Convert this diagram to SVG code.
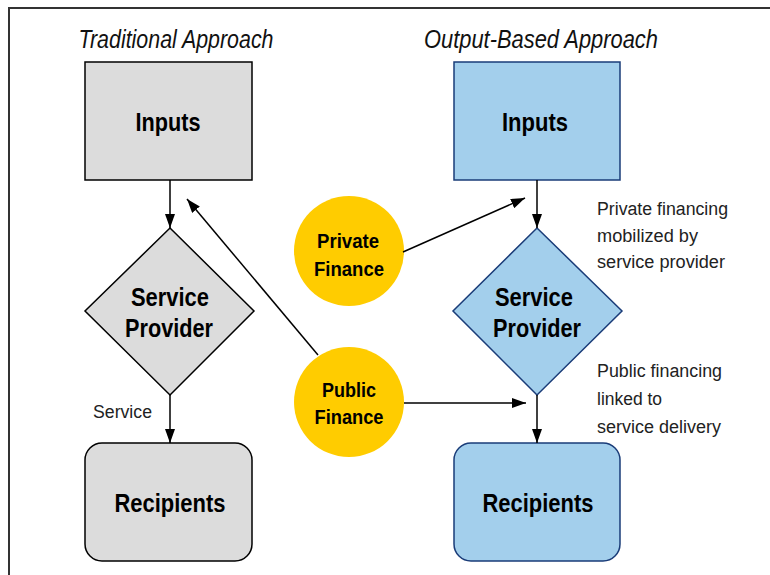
<svg xmlns="http://www.w3.org/2000/svg" width="770" height="575" viewBox="0 0 770 575">
<defs>
<marker id="ah" viewBox="0 0 14 10" refX="14" refY="5" markerWidth="14" markerHeight="10" markerUnits="userSpaceOnUse" orient="auto">
<path d="M0,0 L14,5 L0,10 Z" fill="#000"/>
</marker>
<style>
text{font-family:"Liberation Sans Narrow","Liberation Sans",Arial,sans-serif;fill:#000}
.title{font-size:25px;font-style:italic;text-anchor:middle;fill:#111}
.big{font-size:25px;font-weight:bold;text-anchor:middle}
.circ{font-size:20px;font-weight:bold;text-anchor:middle}
.note{font-size:18px;fill:#222}
.gray{fill:#dcdcdc;stroke:#000;stroke-width:1.5}
.blue{fill:#a3cfec;stroke:#1a3c78;stroke-width:1.5}
.yel{fill:#ffcc00;stroke:none}
.conn line{stroke:#000;stroke-width:1.5;marker-end:url(#ah)}
</style>
</defs>
<rect width="770" height="575" fill="#fff"/>
<path d="M9,575 V8 H770" fill="none" stroke="#333" stroke-width="2"/>
<text class="title" x="176" y="48" textLength="195" lengthAdjust="spacingAndGlyphs">Traditional Approach</text>
<text class="title" x="541" y="48" textLength="234" lengthAdjust="spacingAndGlyphs">Output-Based Approach</text>

<g id="trad-inputs"><rect class="gray" x="85" y="62" width="167" height="118"/><text class="big" x="168" y="131" textLength="65" lengthAdjust="spacingAndGlyphs">Inputs</text></g>
<g id="trad-provider"><polygon class="gray" points="170,228 254,311 170,395 85,311"/><text class="big" x="170" y="306" textLength="78" lengthAdjust="spacingAndGlyphs">Service</text><text class="big" x="169" y="337" textLength="88" lengthAdjust="spacingAndGlyphs">Provider</text></g>
<g id="trad-recipients"><rect class="gray" x="85" y="443" width="167" height="118" rx="17"/><text class="big" x="170" y="512" textLength="111" lengthAdjust="spacingAndGlyphs">Recipients</text></g>

<g id="ob-inputs"><rect class="blue" x="454" y="62" width="166" height="118"/><text class="big" x="535" y="131" textLength="66" lengthAdjust="spacingAndGlyphs">Inputs</text></g>
<g id="ob-provider"><polygon class="blue" points="537,228 622,311 537,395 453,311"/><text class="big" x="534" y="306" textLength="78" lengthAdjust="spacingAndGlyphs">Service</text><text class="big" x="537" y="337" textLength="88" lengthAdjust="spacingAndGlyphs">Provider</text></g>
<g id="ob-recipients"><rect class="blue" x="454" y="443" width="166" height="118" rx="17"/><text class="big" x="538" y="512" textLength="111" lengthAdjust="spacingAndGlyphs">Recipients</text></g>

<g id="private-finance"><circle class="yel" cx="349" cy="251" r="55"/><text class="circ" x="348" y="248" textLength="62" lengthAdjust="spacingAndGlyphs">Private</text><text class="circ" x="349" y="276" textLength="70" lengthAdjust="spacingAndGlyphs">Finance</text></g>
<g id="public-finance"><circle class="yel" cx="349" cy="402" r="55"/><text class="circ" x="349" y="397" textLength="54" lengthAdjust="spacingAndGlyphs">Public</text><text class="circ" x="349" y="424" textLength="69" lengthAdjust="spacingAndGlyphs">Finance</text></g>

<g id="connectors" class="conn">
<line x1="170" y1="180" x2="170" y2="228"/>
<line x1="170" y1="395" x2="170" y2="443"/>
<line x1="318" y1="355" x2="187" y2="199"/>
<line x1="537" y1="180" x2="537" y2="228"/>
<line x1="537" y1="395" x2="537" y2="443"/>
<line x1="403" y1="252" x2="525" y2="198"/>
<line x1="404" y1="403" x2="526" y2="403"/>
</g>

<g id="labels">
<text class="note" x="93" y="418" textLength="59" lengthAdjust="spacingAndGlyphs">Service</text>
<text class="note" x="597" y="215" textLength="131" lengthAdjust="spacingAndGlyphs">Private financing</text>
<text class="note" x="597" y="242" textLength="101" lengthAdjust="spacingAndGlyphs">mobilized by</text>
<text class="note" x="597" y="268" textLength="128" lengthAdjust="spacingAndGlyphs">service provider</text>
<text class="note" x="597" y="377" textLength="125" lengthAdjust="spacingAndGlyphs">Public financing</text>
<text class="note" x="597" y="405" textLength="65" lengthAdjust="spacingAndGlyphs">linked to</text>
<text class="note" x="597" y="433" textLength="124" lengthAdjust="spacingAndGlyphs">service delivery</text>
</g>
</svg>
